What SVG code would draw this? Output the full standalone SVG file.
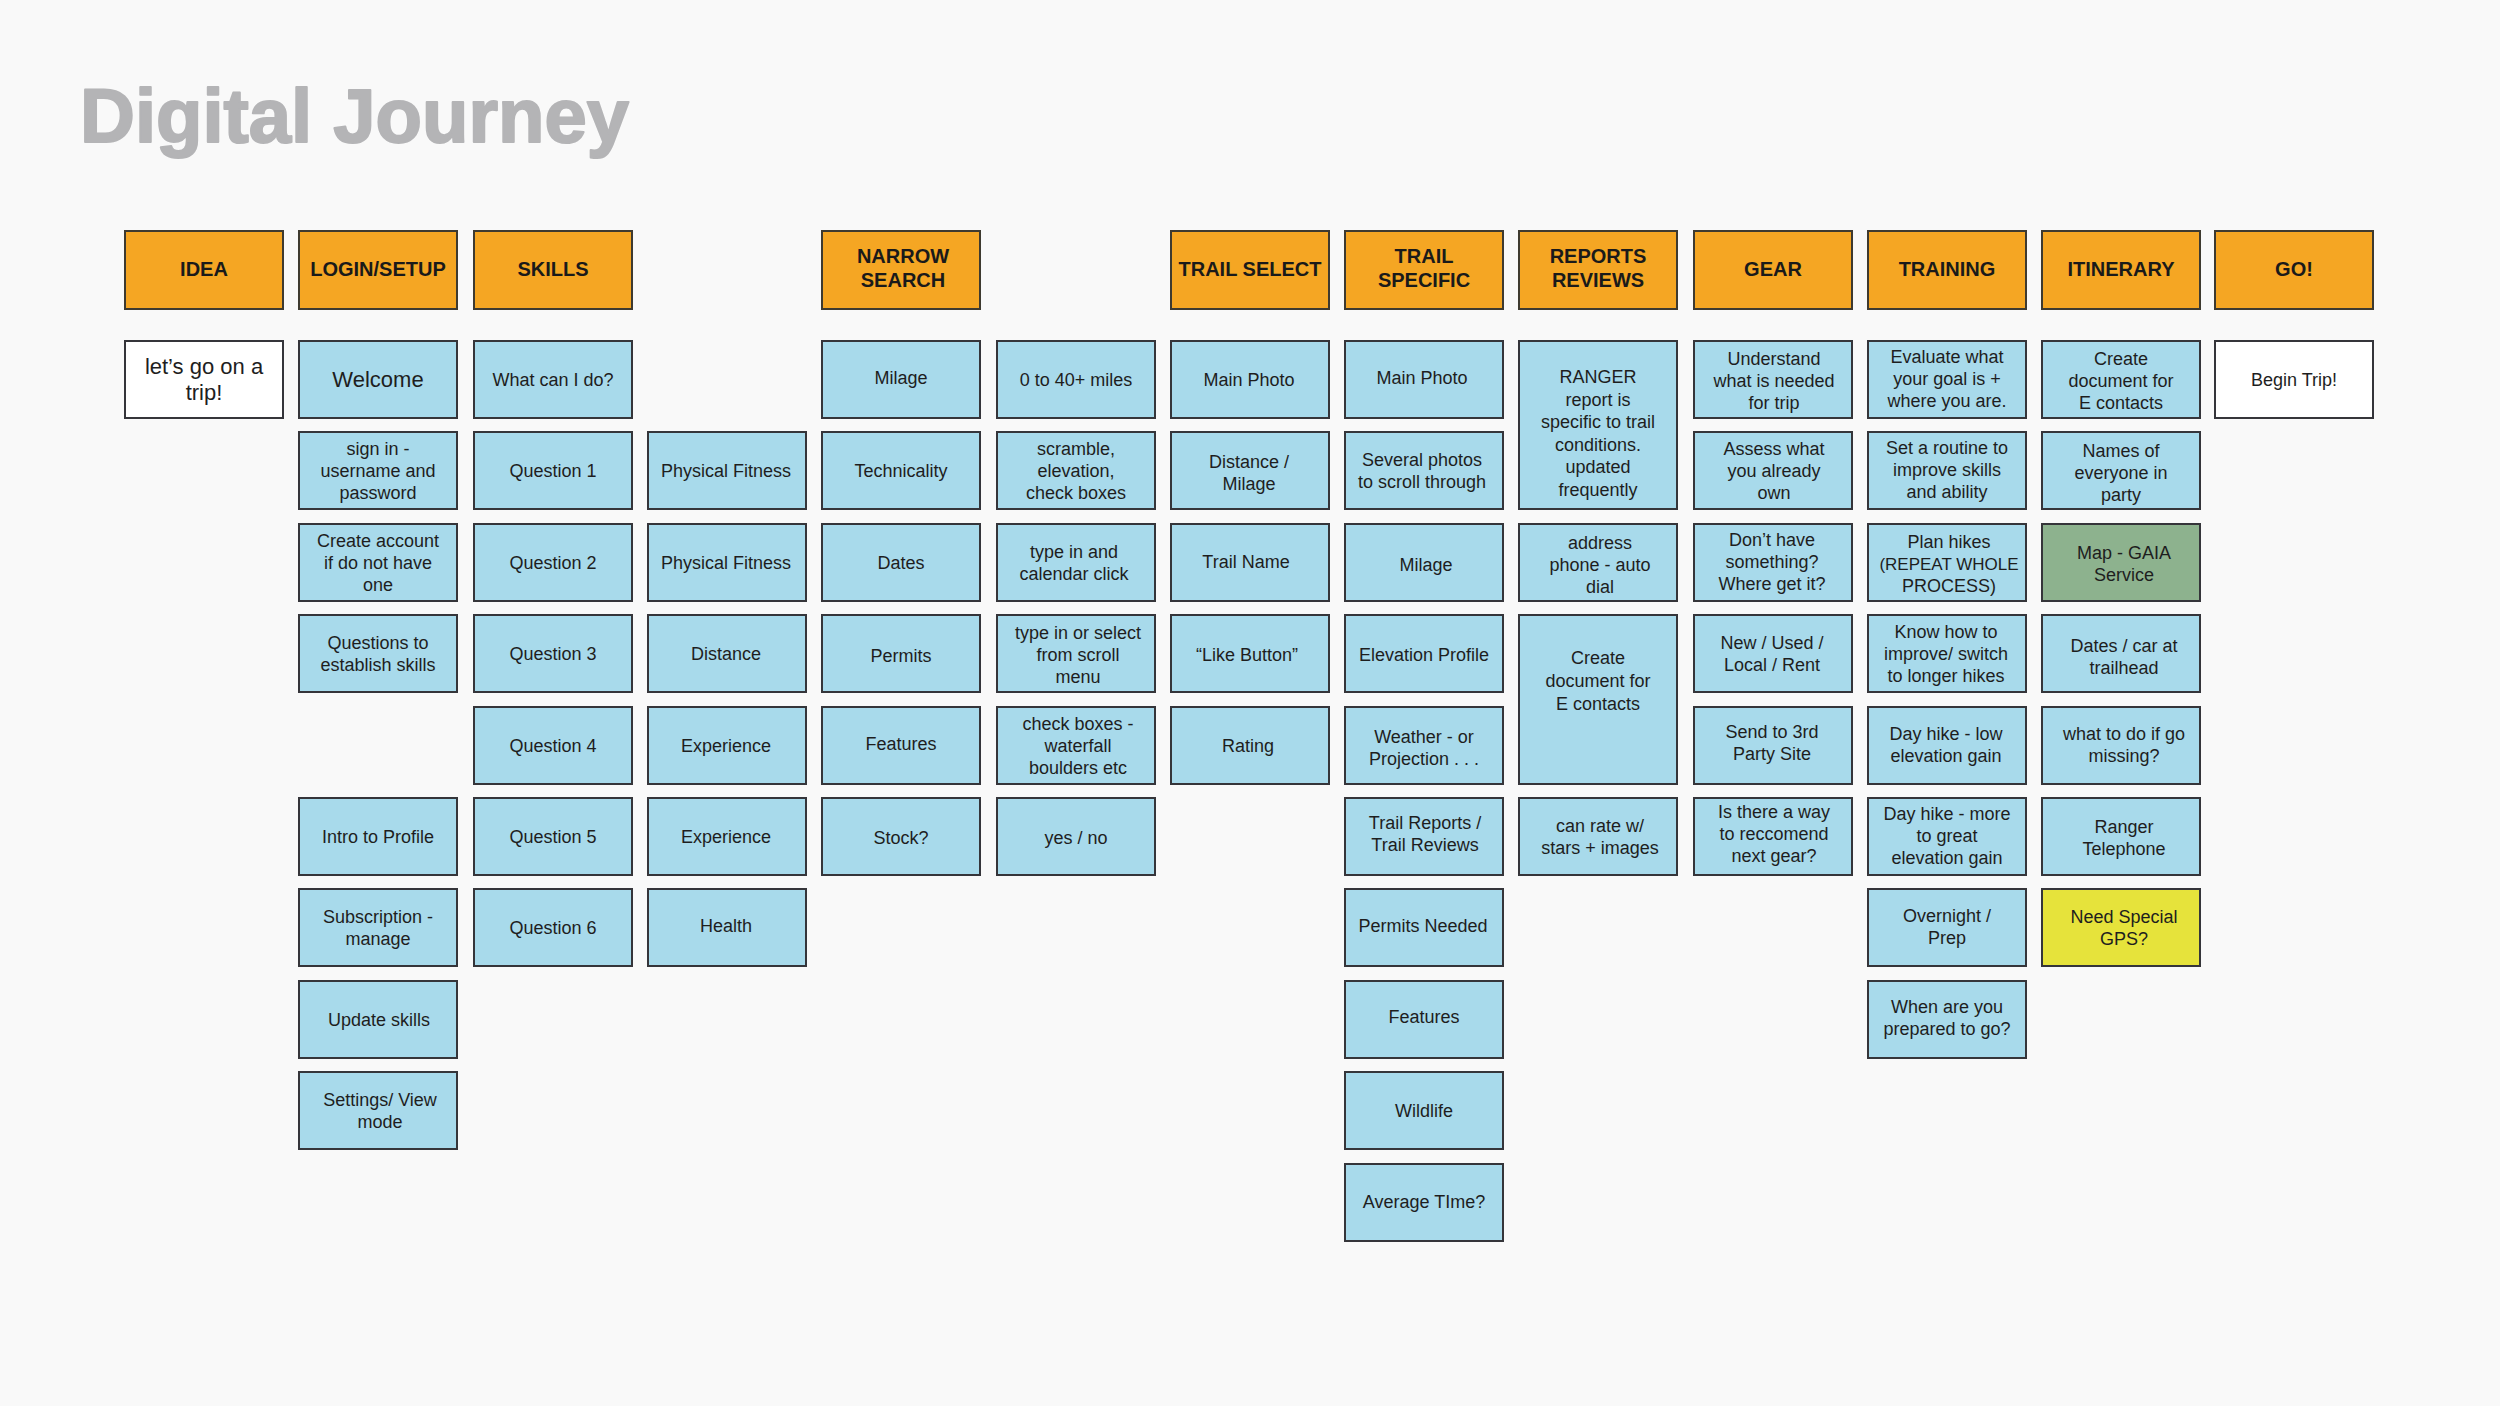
<svg xmlns="http://www.w3.org/2000/svg" width="2500" height="1406" viewBox="0 0 2500 1406">
<style>
.bg{fill:#f9f9f9}
.title{font-family:"Liberation Sans",Arial,sans-serif;font-weight:bold;font-size:76px;fill:#b4b4b6;stroke:#b4b4b6;stroke-width:2;stroke-linejoin:round}
rect.box{stroke:#35353a;stroke-width:2}
.hd rect{fill:#f5a623;stroke:#3e3a30;stroke-width:2}
.hd text{font-family:"Liberation Sans",Arial,sans-serif;font-weight:bold;font-size:20px;fill:#1a1a1a;text-anchor:middle;dominant-baseline:central}
.nb rect{fill:#a8daeb}
.wh rect{fill:#ffffff}
.gr rect{fill:#8db28e}
.yl rect{fill:#e6e33b}
.nd text{font-family:"Liberation Sans",Arial,sans-serif;font-size:18px;fill:#1e1e1e;text-anchor:middle;dominant-baseline:central}
.nd text.big{font-size:22px}
</style>
<rect class="bg" x="0" y="0" width="2500" height="1406"/>
<text class="title" x="80" y="142">Digital Journey</text>

<g id="connectors"></g>

<!-- Headers -->
<g id="h-idea" class="hd"><rect x="125" y="231" width="158" height="78"/><text x="204" y="269">IDEA</text></g>
<g id="h-login" class="hd"><rect x="299" y="231" width="158" height="78"/><text x="378" y="269">LOGIN/SETUP</text></g>
<g id="h-skills" class="hd"><rect x="474" y="231" width="158" height="78"/><text x="553" y="269">SKILLS</text></g>
<g id="h-narrow" class="hd"><rect x="822" y="231" width="158" height="78"/><text x="903" y="256">NARROW</text><text x="903" y="280">SEARCH</text></g>
<g id="h-trailselect" class="hd"><rect x="1171" y="231" width="158" height="78"/><text x="1250" y="269">TRAIL SELECT</text></g>
<g id="h-trailspecific" class="hd"><rect x="1345" y="231" width="158" height="78"/><text x="1424" y="256">TRAIL</text><text x="1424" y="280">SPECIFIC</text></g>
<g id="h-reports" class="hd"><rect x="1519" y="231" width="158" height="78"/><text x="1598" y="256">REPORTS</text><text x="1598" y="280">REVIEWS</text></g>
<g id="h-gear" class="hd"><rect x="1694" y="231" width="158" height="78"/><text x="1773" y="269">GEAR</text></g>
<g id="h-training" class="hd"><rect x="1868" y="231" width="158" height="78"/><text x="1947" y="269">TRAINING</text></g>
<g id="h-itinerary" class="hd"><rect x="2042" y="231" width="158" height="78"/><text x="2121" y="269">ITINERARY</text></g>
<g id="h-go" class="hd"><rect x="2215" y="231" width="158" height="78"/><text x="2294" y="269">GO!</text></g>

<!-- IDEA -->
<g id="n-idea-1" class="nd wh"><rect class="box" x="125" y="341" width="158" height="77"/><text class="big" x="204" y="366.5">let’s go on a</text><text class="big" x="204" y="392.5">trip!</text></g>

<!-- LOGIN/SETUP -->
<g id="n-login-1" class="nd nb"><rect class="box" x="299" y="341" width="158" height="77"/><text class="big" x="378" y="379.5">Welcome</text></g>
<g id="n-login-2" class="nd nb"><rect class="box" x="299" y="432" width="158" height="77"/><text x="378" y="448.5">sign in -</text><text x="378" y="470.5">username and</text><text x="378" y="492.5">password</text></g>
<g id="n-login-3" class="nd nb"><rect class="box" x="299" y="524" width="158" height="77"/><text x="378" y="540.5">Create account</text><text x="378" y="562.5">if do not have</text><text x="378" y="584.5">one</text></g>
<g id="n-login-4" class="nd nb"><rect class="box" x="299" y="615" width="158" height="77"/><text x="378" y="642.5">Questions to</text><text x="378" y="664.5">establish skills</text></g>
<g id="n-login-5" class="nd nb"><rect class="box" x="299" y="798" width="158" height="77"/><text x="378" y="836.5">Intro to Profile</text></g>
<g id="n-login-6" class="nd nb"><rect class="box" x="299" y="889" width="158" height="77"/><text x="378" y="916.5">Subscription -</text><text x="378" y="938.5">manage</text></g>
<g id="n-login-7" class="nd nb"><rect class="box" x="299" y="981" width="158" height="77"/><text x="379" y="1019.5">Update skills</text></g>
<g id="n-login-8" class="nd nb"><rect class="box" x="299" y="1072" width="158" height="77"/><text x="380" y="1099.5">Settings/ View</text><text x="380" y="1121.5">mode</text></g>

<!-- SKILLS -->
<g id="n-skills-1" class="nd nb"><rect class="box" x="474" y="341" width="158" height="77"/><text x="553" y="379.5">What can I do?</text></g>
<g id="n-skills-2" class="nd nb"><rect class="box" x="474" y="432" width="158" height="77"/><text x="553" y="470.5">Question 1</text></g>
<g id="n-skills-3" class="nd nb"><rect class="box" x="474" y="524" width="158" height="77"/><text x="553" y="562.5">Question 2</text></g>
<g id="n-skills-4" class="nd nb"><rect class="box" x="474" y="615" width="158" height="77"/><text x="553" y="653.5">Question 3</text></g>
<g id="n-skills-5" class="nd nb"><rect class="box" x="474" y="707" width="158" height="77"/><text x="553" y="745.5">Question 4</text></g>
<g id="n-skills-6" class="nd nb"><rect class="box" x="474" y="798" width="158" height="77"/><text x="553" y="836.5">Question 5</text></g>
<g id="n-skills-7" class="nd nb"><rect class="box" x="474" y="889" width="158" height="77"/><text x="553" y="927.5">Question 6</text></g>

<!-- Skills answers -->
<g id="n-skillsa-1" class="nd nb"><rect class="box" x="648" y="432" width="158" height="77"/><text x="726" y="470.5">Physical Fitness</text></g>
<g id="n-skillsa-2" class="nd nb"><rect class="box" x="648" y="524" width="158" height="77"/><text x="726" y="562.5">Physical Fitness</text></g>
<g id="n-skillsa-3" class="nd nb"><rect class="box" x="648" y="615" width="158" height="77"/><text x="726" y="653.5">Distance</text></g>
<g id="n-skillsa-4" class="nd nb"><rect class="box" x="648" y="707" width="158" height="77"/><text x="726" y="745.5">Experience</text></g>
<g id="n-skillsa-5" class="nd nb"><rect class="box" x="648" y="798" width="158" height="77"/><text x="726" y="836.5">Experience</text></g>
<g id="n-skillsa-6" class="nd nb"><rect class="box" x="648" y="889" width="158" height="77"/><text x="726" y="925.5">Health</text></g>

<!-- NARROW SEARCH -->
<g id="n-narrow-1" class="nd nb"><rect class="box" x="822" y="341" width="158" height="77"/><text x="901" y="377.5">Milage</text></g>
<g id="n-narrow-2" class="nd nb"><rect class="box" x="822" y="432" width="158" height="77"/><text x="901" y="470.5">Technicality</text></g>
<g id="n-narrow-3" class="nd nb"><rect class="box" x="822" y="524" width="158" height="77"/><text x="901" y="562.5">Dates</text></g>
<g id="n-narrow-4" class="nd nb"><rect class="box" x="822" y="615" width="158" height="77"/><text x="901" y="655.5">Permits</text></g>
<g id="n-narrow-5" class="nd nb"><rect class="box" x="822" y="707" width="158" height="77"/><text x="901" y="743.5">Features</text></g>
<g id="n-narrow-6" class="nd nb"><rect class="box" x="822" y="798" width="158" height="77"/><text x="901" y="837.5">Stock?</text></g>

<!-- Narrow search answers -->
<g id="n-narrowa-1" class="nd nb"><rect class="box" x="997" y="341" width="158" height="77"/><text x="1076" y="379.5">0 to 40+ miles</text></g>
<g id="n-narrowa-2" class="nd nb"><rect class="box" x="997" y="432" width="158" height="77"/><text x="1076" y="448.5">scramble,</text><text x="1076" y="470.5">elevation,</text><text x="1076" y="492.5">check boxes</text></g>
<g id="n-narrowa-3" class="nd nb"><rect class="box" x="997" y="524" width="158" height="77"/><text x="1074" y="551.5">type in and</text><text x="1074" y="573.5">calendar click</text></g>
<g id="n-narrowa-4" class="nd nb"><rect class="box" x="997" y="615" width="158" height="77"/><text x="1078" y="632.5">type in or select</text><text x="1078" y="654.5">from scroll</text><text x="1078" y="676.5">menu</text></g>
<g id="n-narrowa-5" class="nd nb"><rect class="box" x="997" y="707" width="158" height="77"/><text x="1078" y="723.5">check boxes -</text><text x="1078" y="745.5">waterfall</text><text x="1078" y="767.5">boulders etc</text></g>
<g id="n-narrowa-6" class="nd nb"><rect class="box" x="997" y="798" width="158" height="77"/><text x="1076" y="837.5">yes / no</text></g>

<!-- TRAIL SELECT -->
<g id="n-tsel-1" class="nd nb"><rect class="box" x="1171" y="341" width="158" height="77"/><text x="1249" y="379.5">Main Photo</text></g>
<g id="n-tsel-2" class="nd nb"><rect class="box" x="1171" y="432" width="158" height="77"/><text x="1249" y="461.5">Distance /</text><text x="1249" y="483.5">Milage</text></g>
<g id="n-tsel-3" class="nd nb"><rect class="box" x="1171" y="524" width="158" height="77"/><text x="1246" y="561.5">Trail Name</text></g>
<g id="n-tsel-4" class="nd nb"><rect class="box" x="1171" y="615" width="158" height="77"/><text x="1247" y="654.5">“Like Button”</text></g>
<g id="n-tsel-5" class="nd nb"><rect class="box" x="1171" y="707" width="158" height="77"/><text x="1248" y="745.5">Rating</text></g>

<!-- TRAIL SPECIFIC -->
<g id="n-tspec-1" class="nd nb"><rect class="box" x="1345" y="341" width="158" height="77"/><text x="1422" y="377.5">Main Photo</text></g>
<g id="n-tspec-2" class="nd nb"><rect class="box" x="1345" y="432" width="158" height="77"/><text x="1422" y="459.5">Several photos</text><text x="1422" y="481.5">to scroll through</text></g>
<g id="n-tspec-3" class="nd nb"><rect class="box" x="1345" y="524" width="158" height="77"/><text x="1426" y="564.5">Milage</text></g>
<g id="n-tspec-4" class="nd nb"><rect class="box" x="1345" y="615" width="158" height="77"/><text x="1424" y="654.5">Elevation Profile</text></g>
<g id="n-tspec-5" class="nd nb"><rect class="box" x="1345" y="707" width="158" height="77"/><text x="1424" y="736.5">Weather - or</text><text x="1424" y="758.5">Projection . . .</text></g>
<g id="n-tspec-6" class="nd nb"><rect class="box" x="1345" y="798" width="158" height="77"/><text x="1425" y="822.5">Trail Reports /</text><text x="1425" y="844.5">Trail Reviews</text></g>
<g id="n-tspec-7" class="nd nb"><rect class="box" x="1345" y="889" width="158" height="77"/><text x="1423" y="925.5">Permits Needed</text></g>
<g id="n-tspec-8" class="nd nb"><rect class="box" x="1345" y="981" width="158" height="77"/><text x="1424" y="1016.5">Features</text></g>
<g id="n-tspec-9" class="nd nb"><rect class="box" x="1345" y="1072" width="158" height="77"/><text x="1424" y="1110.5">Wildlife</text></g>
<g id="n-tspec-10" class="nd nb"><rect class="box" x="1345" y="1164" width="158" height="77"/><text x="1424" y="1201.5">Average TIme?</text></g>

<!-- REPORTS REVIEWS -->
<g id="n-rep-1" class="nd nb"><rect class="box" x="1519" y="341" width="158" height="168"/><text x="1598" y="377">RANGER</text><text x="1598" y="399.5">report is</text><text x="1598" y="422">specific to trail</text><text x="1598" y="444.5">conditions.</text><text x="1598" y="467">updated</text><text x="1598" y="489.5">frequently</text></g>
<g id="n-rep-2" class="nd nb"><rect class="box" x="1519" y="524" width="158" height="77"/><text x="1600" y="542.5">address</text><text x="1600" y="564.5">phone - auto</text><text x="1600" y="586.5">dial</text></g>
<g id="n-rep-3" class="nd nb"><rect class="box" x="1519" y="615" width="158" height="169"/><text x="1598" y="658">Create</text><text x="1598" y="681">document for</text><text x="1598" y="704">E contacts</text></g>
<g id="n-rep-4" class="nd nb"><rect class="box" x="1519" y="798" width="158" height="77"/><text x="1600" y="825.5">can rate w/</text><text x="1600" y="847.5">stars + images</text></g>

<!-- GEAR -->
<g id="n-gear-1" class="nd nb"><rect class="box" x="1694" y="341" width="158" height="77"/><text x="1774" y="359">Understand</text><text x="1774" y="381">what is needed</text><text x="1774" y="403">for trip</text></g>
<g id="n-gear-2" class="nd nb"><rect class="box" x="1694" y="432" width="158" height="77"/><text x="1774" y="449">Assess what</text><text x="1774" y="471">you already</text><text x="1774" y="493">own</text></g>
<g id="n-gear-3" class="nd nb"><rect class="box" x="1694" y="524" width="158" height="77"/><text x="1772" y="540">Don’t have</text><text x="1772" y="562">something?</text><text x="1772" y="584">Where get it?</text></g>
<g id="n-gear-4" class="nd nb"><rect class="box" x="1694" y="615" width="158" height="77"/><text x="1772" y="643">New / Used /</text><text x="1772" y="665">Local / Rent</text></g>
<g id="n-gear-5" class="nd nb"><rect class="box" x="1694" y="707" width="158" height="77"/><text x="1772" y="732">Send to 3rd</text><text x="1772" y="754">Party Site</text></g>
<g id="n-gear-6" class="nd nb"><rect class="box" x="1694" y="798" width="158" height="77"/><text x="1774" y="812">Is there a way</text><text x="1774" y="834">to reccomend</text><text x="1774" y="856">next gear?</text></g>

<!-- TRAINING -->
<g id="n-train-1" class="nd nb"><rect class="box" x="1868" y="341" width="158" height="77"/><text x="1947" y="357">Evaluate what</text><text x="1947" y="379">your goal is +</text><text x="1947" y="401">where you are.</text></g>
<g id="n-train-2" class="nd nb"><rect class="box" x="1868" y="432" width="158" height="77"/><text x="1947" y="448">Set a routine to</text><text x="1947" y="470">improve skills</text><text x="1947" y="492">and ability</text></g>
<g id="n-train-3" class="nd nb"><rect class="box" x="1868" y="524" width="158" height="77"/><text x="1949" y="542">Plan hikes</text><text x="1949" y="564" style="font-size:17px">(REPEAT WHOLE</text><text x="1949" y="586">PROCESS)</text></g>
<g id="n-train-4" class="nd nb"><rect class="box" x="1868" y="615" width="158" height="77"/><text x="1946" y="632">Know how to</text><text x="1946" y="654">improve/ switch</text><text x="1946" y="676">to longer hikes</text></g>
<g id="n-train-5" class="nd nb"><rect class="box" x="1868" y="707" width="158" height="77"/><text x="1946" y="734">Day hike - low</text><text x="1946" y="756">elevation gain</text></g>
<g id="n-train-6" class="nd nb"><rect class="box" x="1868" y="798" width="158" height="77"/><text x="1947" y="814">Day hike - more</text><text x="1947" y="836">to great</text><text x="1947" y="858">elevation gain</text></g>
<g id="n-train-7" class="nd nb"><rect class="box" x="1868" y="889" width="158" height="77"/><text x="1947" y="916">Overnight /</text><text x="1947" y="938">Prep</text></g>
<g id="n-train-8" class="nd nb"><rect class="box" x="1868" y="981" width="158" height="77"/><text x="1947" y="1007">When are you</text><text x="1947" y="1029">prepared to go?</text></g>

<!-- ITINERARY -->
<g id="n-itin-1" class="nd nb"><rect class="box" x="2042" y="341" width="158" height="77"/><text x="2121" y="359">Create</text><text x="2121" y="381">document for</text><text x="2121" y="403">E contacts</text></g>
<g id="n-itin-2" class="nd nb"><rect class="box" x="2042" y="432" width="158" height="77"/><text x="2121" y="451">Names of</text><text x="2121" y="473">everyone in</text><text x="2121" y="495">party</text></g>
<g id="n-itin-3" class="nd gr"><rect class="box" x="2042" y="524" width="158" height="77"/><text x="2124" y="553">Map - GAIA</text><text x="2124" y="575">Service</text></g>
<g id="n-itin-4" class="nd nb"><rect class="box" x="2042" y="615" width="158" height="77"/><text x="2124" y="646">Dates / car at</text><text x="2124" y="668">trailhead</text></g>
<g id="n-itin-5" class="nd nb"><rect class="box" x="2042" y="707" width="158" height="77"/><text x="2124" y="734">what to do if go</text><text x="2124" y="756">missing?</text></g>
<g id="n-itin-6" class="nd nb"><rect class="box" x="2042" y="798" width="158" height="77"/><text x="2124" y="827">Ranger</text><text x="2124" y="849">Telephone</text></g>
<g id="n-itin-7" class="nd yl"><rect class="box" x="2042" y="889" width="158" height="77"/><text x="2124" y="917">Need Special</text><text x="2124" y="939">GPS?</text></g>

<!-- GO! -->
<g id="n-go-1" class="nd wh"><rect class="box" x="2215" y="341" width="158" height="77"/><text x="2294" y="379.5">Begin Trip!</text></g>
</svg>
